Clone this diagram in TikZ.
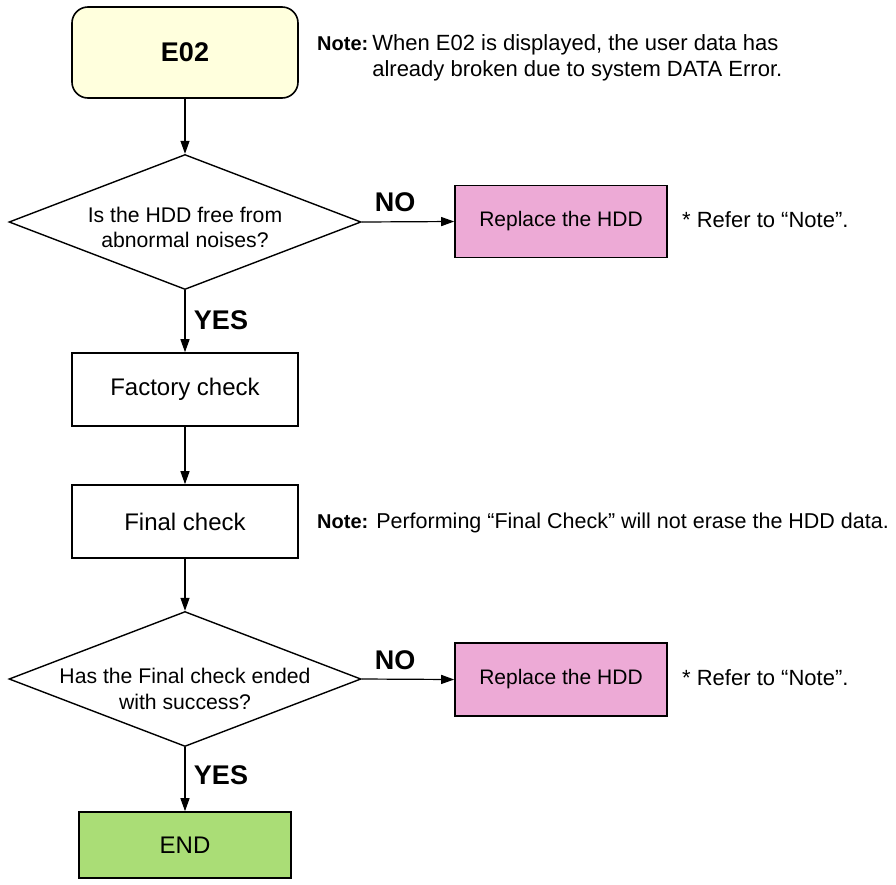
\documentclass[tikz,border=0pt]{standalone}
\usepackage{fontspec}
\setmainfont{Liberation Sans}
\usetikzlibrary{shapes.geometric,arrows.meta}
\definecolor{yel}{RGB}{255,255,221}
\definecolor{pnk}{RGB}{237,170,214}
\definecolor{grn}{RGB}{170,221,118}
\newcommand{\notehead}{{\bfseries\fontsize{20}{26}\selectfont Note:}}
\begin{document}
\begin{tikzpicture}[x=1pt,y=-1pt,
  txt/.style={font=\fontsize{21.2}{25.5}\selectfont, align=center, inner sep=0pt},
  box/.style={draw, line width=1.6pt, minimum width=226pt, minimum height=73pt, inner sep=0pt, font=\fontsize{24}{28}\selectfont},
  pbox/.style={box, fill=pnk, minimum width=212pt, minimum height=72pt, font=\fontsize{21}{25}\selectfont},
  dia/.style={draw, diamond, aspect=2.6, line width=1.4pt, minimum width=352pt, minimum height=135pt, inner sep=0pt},
  arr/.style={-{Triangle[length=13pt,width=9pt]}, line width=1.2pt},
  lbl/.style={font=\bfseries\fontsize{27}{30}\selectfont, inner sep=0pt},
  note/.style={font=\fontsize{22}{26}\selectfont, inner sep=0pt, anchor=west}
]
\useasboundingbox (0,0) rectangle (896,884);

\node[box, fill=yel, rounded corners=16pt, minimum height=91pt, font=\bfseries\fontsize{27}{30}\selectfont] (e02) at (185,52.5) {E02};
\node[note] (n1) at (317,58) {\def\arraystretch{1}\begin{tabular}{@{}l@{\hspace{4pt}}l@{}}\notehead & When E02 is displayed, the user data has\\ & already broken due to system DATA Error.\end{tabular}};

\node[dia] (d1) at (185,222) {};
\node[txt] (d1t) at (185,227.5) {Is the HDD free from\\abnormal noises?};
\node[pbox] (r1) at (561,221.5) {Replace the HDD};
\node[note] (s1) at (682,220) {* Refer to “Note”.};
\node[lbl] (no1) at (395,202) {NO};

\node[box] (fac) at (185,389.5) {Factory check};
\node[lbl] (yes1) at (221,320) {YES};
\node[box] (fin) at (185,521.5) {Final check};
\node[note, font=\fontsize{21.5}{26}\selectfont] (n2) at (317,523) {\notehead{} Performing “Final Check” will not erase the HDD data.};

\node[dia] (d2) at (185,679) {};
\node[txt] (d2t) at (185,689) {Has the Final check ended\\with success?};
\node[pbox, minimum height=73pt] (r2) at (561,679.5) {Replace the HDD};
\node[note] (s2) at (682,678) {* Refer to “Note”.};
\node[lbl] (no2) at (395,660) {NO};
\node[lbl] (yes2) at (221,775) {YES};

\node[box, fill=grn, minimum width=212pt, minimum height=66pt] (end) at (185,845) {END};

\draw[arr] (e02.south) -- (d1.north);
\draw[arr] (d1.east) -- (r1.west);
\draw[arr] (d1.south) -- (fac.north);
\draw[arr] (fac.south) -- (fin.north);
\draw[arr] (fin.south) -- (d2.north);
\draw[arr] (d2.east) -- (r2.west);
\draw[arr] (d2.south) -- (end.north);
\end{tikzpicture}
\end{document}
